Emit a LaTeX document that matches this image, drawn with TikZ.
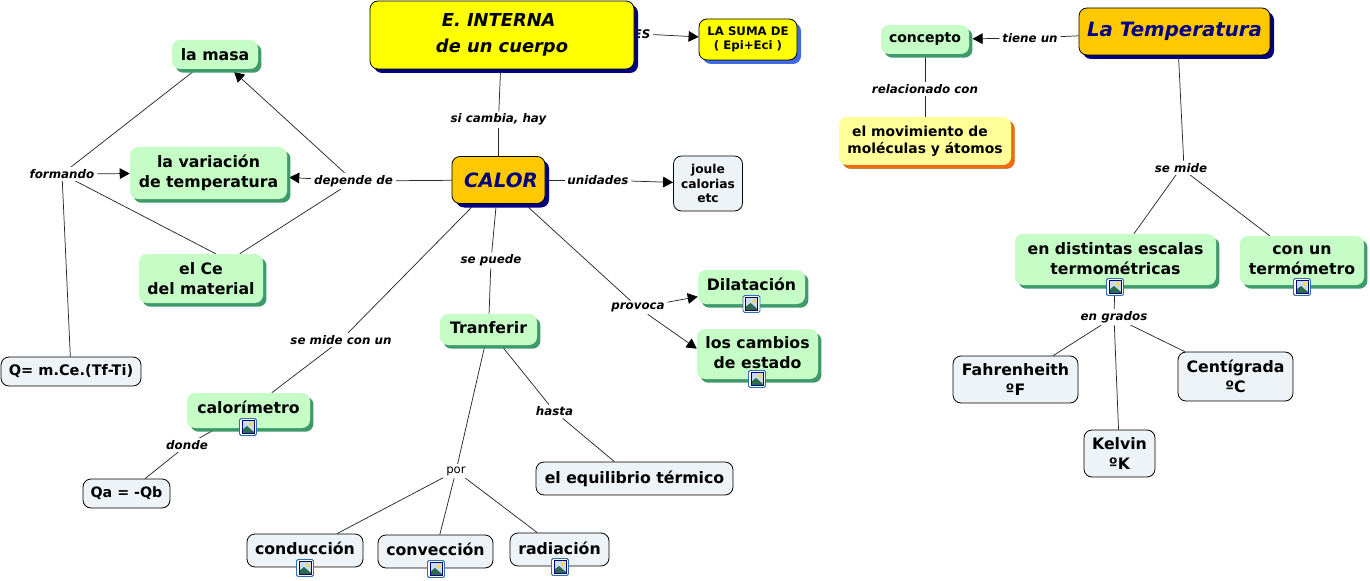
\documentclass[tikz,border=0pt]{standalone}
\usepackage{fontspec}
\usepackage{xcolor}
\usetikzlibrary{arrows.meta,backgrounds,shadows}
\setmainfont{DejaVu Sans}
\definecolor{conceptgreen}{HTML}{C6FCC6}
\definecolor{shadowgreen}{HTML}{3F9A6B}
\definecolor{leafpale}{HTML}{EDF3F6}
\definecolor{titlegold}{HTML}{FFC800}
\definecolor{titlenavy}{HTML}{000080}
\definecolor{titleyellow}{HTML}{FFFF00}
\definecolor{sumablue}{HTML}{4169E1}
\definecolor{notepale}{HTML}{FFFF99}
\definecolor{noteorange}{HTML}{F26A12}
\definecolor{iconblue}{HTML}{2F6DB5}
\definecolor{iconsky}{HTML}{C9DCF2}
\definecolor{iconsun}{HTML}{F5D94A}
\tikzset{
  boxsize/.style 2 args={minimum width=#1*0.75pt, minimum height=#2*0.75pt},
  basebox/.style={rounded corners=6pt, inner sep=0pt, align=center,
    font=\fontsize{11.8}{14.8}\selectfont\bfseries},
  greenbox/.style={basebox, fill=conceptgreen,
    general shadow={fill=shadowgreen, shadow xshift=2.6pt, shadow yshift=-2.8pt}},
  leafbox/.style={basebox, draw=black, line width=0.6pt, fill=leafpale},
  titlebox/.style={basebox, draw=black, line width=0.6pt, fill=titlegold,
    text=titlenavy, font=\fontsize{14.8}{17}\selectfont\bfseries\itshape,
    general shadow={fill=titlenavy, shadow xshift=3pt, shadow yshift=-3pt}},
  linklabel/.style={fill=white, inner xsep=2pt, inner ysep=1.5pt,
    font=\fontsize{8.9}{10}\selectfont\bfseries\itshape},
  linkline/.style={line width=0.55pt, black!85},
  linkarrow/.style={linkline, -{Triangle[length=7.5pt,width=8pt,black]}},
  imgicon/.pic={
    \draw[iconblue, fill=white, rounded corners=1.2pt, line width=0.7pt]
      (-8.5,-8.5) rectangle (8.5,8.5);
    \fill[iconsky] (-6,-6.5) rectangle (6,6.5);
    \fill[shadowgreen!70!black] (-6,6.5) -- (-6,3) -- (-1,-1) -- (6,5) -- (6,6.5) -- cycle;
    \fill[iconsun] (2.8,-3) circle (2);
    \draw[titlenavy, line width=0.6pt] (-6,-6.5) rectangle (6,6.5);
  }
}
\begin{document}
\begin{tikzpicture}[x=0.75pt, y=-0.75pt]
\useasboundingbox (0,0) rectangle (1370,581);
\node[linklabel] (es) at (642,34) {ES};
\node[titlebox, boxsize={264}{68}, fill=titleyellow, text=black, font=\fontsize{13.4}{19.4}\selectfont\bfseries\itshape] (einterna) at (502,35) {E. INTERNA\rule{5pt}{0pt}\\de un cuerpo};
\node[basebox, boxsize={98}{41}, draw=black, line width=0.6pt, fill=titleyellow, font=\fontsize{8.8}{11}\selectfont\bfseries, general shadow={fill=sumablue, shadow xshift=3pt, shadow yshift=-3pt}] (suma) at (748,39.5) {LA SUMA DE\\( Epi+Eci )};
\node[titlebox, boxsize={93}{47}] (calor) at (498.5,180) {\rule{3.75pt}{0pt}CALOR};
\node[leafbox, boxsize={69}{55}, font=\fontsize{9.2}{11}\selectfont\bfseries] (joule) at (708,183.5) {joule\\calorias\\etc};
\node[greenbox, boxsize={86}{29}] (masa) at (215,54.5) {la masa};
\node[greenbox, boxsize={157}{52}] (variacion) at (208.5,173) {la variación\\de temperatura};
\node[greenbox, boxsize={124}{49}] (ce) at (201,278.5) {el Ce\\del material};
\node[leafbox, boxsize={140}{29}, font=\fontsize{10.9}{12}\selectfont\bfseries] (formula) at (71,371.5) {Q= m.Ce.(Tf-Ti)};
\node[greenbox, boxsize={123}{35}, text depth=4.5pt] (calorimetro) at (248.5,410.5) {calorímetro};
\node[leafbox, boxsize={87}{29}, font=\fontsize{10.7}{12}\selectfont\bfseries] (qa) at (126.5,493.5) {Qa = -Qb};
\node[greenbox, boxsize={97}{31}, text depth=3pt] (tranferir) at (488.5,329.5) {Tranferir};
\node[leafbox, boxsize={116}{33}, text depth=3pt] (conduccion) at (305,550.5) {conducción};
\node[leafbox, boxsize={115}{33}, text depth=3pt] (conveccion) at (435.5,551.5) {convección};
\node[leafbox, boxsize={99}{33}, text depth=1.5pt] (radiacion) at (559.5,549.5) {radiación};
\node[leafbox, boxsize={197}{33}] (equilibrio) at (634.5,478.5) {el equilibrio térmico};
\node[greenbox, boxsize={107}{34}, text depth=4.5pt] (dilatacion) at (751.5,287) {Dilatación};
\node[greenbox, boxsize={121}{50}, text depth=2.2pt] (cambios) at (757.5,354) {los cambios\\de estado};
\node[greenbox, boxsize={88}{29}, font=\fontsize{10.5}{13}\selectfont\bfseries] (concepto) at (925,39.5) {concepto};
\node[titlebox, boxsize={191}{47}] (temperatura) at (1174.5,31.5) {La Temperatura};
\node[greenbox, boxsize={172}{48}, fill=notepale, general shadow={fill=noteorange, shadow xshift=2.8pt, shadow yshift=-2.8pt}, font=\fontsize{10.4}{13}\selectfont\bfseries] (movimiento) at (925,141) {el movimiento de\rule{7.5pt}{0pt}\\moléculas y átomos};
\node[greenbox, boxsize={201}{51}, text depth=1pt] (escalas) at (1115.5,259.5) {en distintas escalas\\termométricas};
\node[greenbox, boxsize={124}{49}] (termometro) at (1302,260.5) {con un\\termómetro};
\node[leafbox, boxsize={125}{47}] (fahrenheith) at (1015.5,379.5) {Fahrenheith\\ºF};
\node[leafbox, boxsize={115}{49}] (centigrada) at (1235.5,376.5) {Centígrada\\ºC};
\node[leafbox, boxsize={71}{47}] (kelvin) at (1119.5,453.5) {Kelvin\\ºK};
\node[linklabel] (sicambia) at (498.5,119.5) {si cambia, hay};
\node[linklabel] (unidades) at (598,180) {unidades};
\node[linklabel] (dependede) at (353.5,181) {depende de};
\node[linklabel] (formando) at (62,174) {formando};
\node[linklabel] (sepuede) at (491,260.5) {se puede};
\node[linklabel] (semidecon) at (341,340) {se mide con un};
\node[linklabel] (donde) at (187,445) {donde};
\node[linklabel] (provoca) at (638,307.5) {provoca};
\node[linklabel] (hasta) at (554.5,411.5) {hasta};
\node[linklabel, font=\fontsize{8.8}{10}\selectfont] (por) at (456,471) {por};
\node[linklabel] (tieneun) at (1030,38) {tiene un};
\node[linklabel] (relacionado) at (925,89) {relacionado con};
\node[linklabel] (semide) at (1181,168) {se mide};
\node[linklabel] (engrados) at (1114,317) {en grados};
\pic at (751.5,304) {imgicon};
\pic at (757,379) {imgicon};
\pic at (248,427) {imgicon};
\pic at (305,568) {imgicon};
\pic at (436,569) {imgicon};
\pic at (560,567) {imgicon};
\pic at (1115,287) {imgicon};
\pic at (1302,287) {imgicon};
\begin{scope}[on background layer]
\draw[linkline] (einterna) -- (es);
\draw[linkarrow] (es) -- (suma);
\draw[linkline] (einterna) -- (sicambia);
\draw[linkline] (sicambia) -- (calor);
\draw[linkline] (calor) -- (unidades);
\draw[linkarrow] (unidades) -- (joule);
\draw[linkline] (calor) -- (dependede);
\draw[linkarrow, shorten >=3pt] (dependede) -- (masa);
\draw[linkarrow, shorten >=1.5pt] (dependede) -- (variacion);
\draw[linkline] (dependede) -- (ce);
\draw[linkline] (masa) -- (formando);
\draw[linkline] ([xshift=11pt]ce.north) -- (formando);
\draw[linkarrow] (formando) -- (variacion);
\draw[linkline] (formando) -- (formula);
\draw[linkline] (calor) -- (sepuede);
\draw[linkline] (sepuede) -- (tranferir);
\draw[linkline] (calor) -- (semidecon);
\draw[linkline] (semidecon) -- (calorimetro);
\draw[linkline] (calorimetro) -- (donde);
\draw[linkline] (donde) -- (qa);
\draw[linkline] (calor) -- (provoca);
\draw[linkarrow] (provoca) -- (dilatacion);
\draw[linkarrow] (provoca) -- (cambios.175);
\draw[linkline] (tranferir) -- (por);
\draw[linkline] (por) -- (conduccion);
\draw[linkline] (por) -- (conveccion);
\draw[linkline] (por) -- (radiacion);
\draw[linkline] (tranferir) -- (hasta);
\draw[linkline] (hasta) -- (equilibrio);
\draw[linkline] (temperatura) -- (tieneun);
\draw[linkarrow, shorten >=2.5pt] (tieneun) -- (concepto);
\draw[linkline] (concepto) -- (relacionado);
\draw[linkline] (relacionado) -- (movimiento);
\draw[linkline] ([xshift=3pt]temperatura.south) -- ([xshift=2pt]semide.north);
\draw[linkline] (semide) -- (escalas);
\draw[linkline] (semide) -- (termometro);
\draw[linkline] (escalas) -- (engrados);
\draw[linkline] (engrados) -- (fahrenheith);
\draw[linkline] (engrados) -- (centigrada);
\draw[linkline] (engrados) -- (kelvin);
\end{scope}
\end{tikzpicture}
\end{document}
